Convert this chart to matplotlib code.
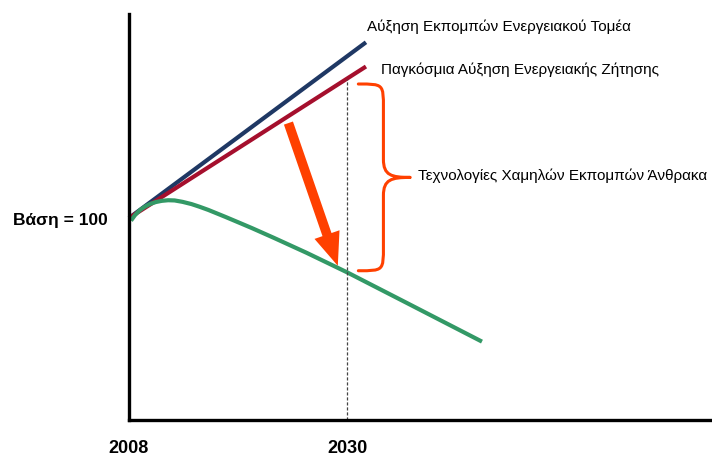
import numpy as np
import matplotlib.pyplot as plt
from matplotlib.path import Path
from matplotlib.patches import PathPatch, FancyArrowPatch

plt.rcParams['font.family'] = ['Liberation Sans', 'DejaVu Sans']

# index values (2008 = 100)
sector_years = [2008, 2031.9]
sector_vals = [100, 187]
demand_years = [2008, 2031.9]
demand_vals = [100, 175]
lowc_years = [2008.2, 2008.6, 2009.1, 2009.6, 2010.1, 2010.7, 2011.3, 2011.95, 2012.6,
              2013.4, 2014.3, 2015.1, 2016.0, 2017.7, 2019.2, 2020.4, 2022.6, 2025.9,
              2030.0, 2036.0, 2043.6]
lowc_vals = [98.7, 101.4, 103.9, 105.6, 106.9, 107.9, 108.5, 108.8, 108.7,
             108.0, 106.9, 105.6, 104.0, 100.6, 97.5, 95.0, 90.2, 82.8,
             73.1, 58.0, 38.8]

base_year, target_year = 2008, 2030
labels = ['Αύξηση Εκπομπών Ενεργειακού Τομέα',
          'Παγκόσμια Αύξηση Ενεργειακής Ζήτησης',
          'Τεχνολογίες Χαμηλών Εκπομπών Άνθρακα']

c_blue = '#1f3864'
c_red = '#a50f2d'
c_green = '#339966'
c_orange = '#ff4000'

fig = plt.figure(figsize=(7.12, 4.56), dpi=100)
ax = fig.add_axes([129 / 712, 35 / 456, 583 / 712, 406 / 456])
ax.set_xlim(2008, 2066.8)
ax.set_ylim(0, 201)

ax.plot(sector_years, sector_vals, color=c_blue, lw=3, solid_capstyle='butt', clip_on=False)
ax.plot(demand_years, demand_vals, color=c_red, lw=3, solid_capstyle='butt', clip_on=False)
ax.plot(lowc_years, lowc_vals, color=c_green, lw=3, solid_capstyle='butt',
        solid_joinstyle='round', clip_on=False)

# value of each path in the target year
red_t = np.interp(target_year, demand_years, demand_vals)
green_t = np.interp(target_year, lowc_years, lowc_vals)

ax.plot([target_year, target_year], [0, red_t], color='#444444', lw=0.9, ls=(0, (2.5, 1.5)))

# big arrow from demand path down to low-carbon path
tip_year = 2029.06
arrow = FancyArrowPatch((2024.08, 147.0), (tip_year, np.interp(tip_year, lowc_years, lowc_vals) + 1),
                        arrowstyle='simple,head_length=1.7,head_width=1.36,tail_width=0.49',
                        mutation_scale=14, color=c_orange, shrinkA=0, shrinkB=0, lw=0)
ax.add_patch(arrow)

# curly brace spanning the gap at the target year
x0, xm, xt = 2031.13, 2033.66, 2036.36
ytop, ybot = red_t - 2.7, green_t + 0.8
ymid = 120.1
r, r2 = 12, 9
verts = [(x0, ytop), (xm, ytop), (xm, ytop), (xm, ytop - r),
         (xm, ymid + r2),
         (xm, ymid + 1), (xm + 0.8, ymid), (xt, ymid),
         (xm + 0.8, ymid), (xm, ymid - 1), (xm, ymid - r2),
         (xm, ybot + r),
         (xm, ybot), (xm, ybot), (x0, ybot)]
codes = [Path.MOVETO, Path.CURVE4, Path.CURVE4, Path.CURVE4,
         Path.LINETO,
         Path.CURVE4, Path.CURVE4, Path.CURVE4,
         Path.CURVE4, Path.CURVE4, Path.CURVE4,
         Path.LINETO,
         Path.CURVE4, Path.CURVE4, Path.CURVE4]
ax.add_patch(PathPatch(Path(verts, codes), fill=False, ec=c_orange, lw=2.2,
                       capstyle='round', joinstyle='round'))

ax.text(2032.0, 195.0, labels[0], fontsize=11, va='center', ha='left', clip_on=False)
ax.text(2033.4, 173.8, labels[1], fontsize=11, va='center', ha='left')
ax.text(2037.1, 121.3, labels[2], fontsize=11, va='center', ha='left')

for s in ['top', 'right']:
    ax.spines[s].set_visible(False)
for s in ['left', 'bottom']:
    ax.spines[s].set_linewidth(2.4)
    ax.spines[s].set_color('black')

ax.set_xticks([base_year, target_year])
ax.set_xticklabels([str(base_year), str(target_year)], fontsize=13, fontweight='bold')
ax.set_yticks([100])
ax.set_yticklabels(['Βάση = 100'], fontsize=12.5, fontweight='bold')
ax.tick_params(axis='x', length=0, pad=14)
ax.tick_params(axis='y', length=0, pad=15.5)

fig.savefig('out.png', dpi=100)
